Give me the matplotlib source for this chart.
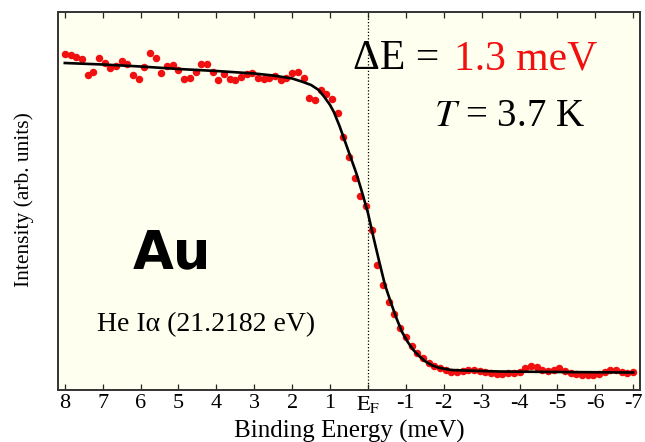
import matplotlib
matplotlib.use("Agg")
import matplotlib.pyplot as plt

# Measured photoemission intensity around the Fermi level of Au (arb. units)
energy = [
    8.00, 7.85, 7.70, 7.55, 7.40, 7.25, 7.10, 6.95, 6.80, 6.65,
    6.50, 6.35, 6.20, 6.05, 5.90, 5.75, 5.60, 5.45, 5.30, 5.15,
    5.00, 4.85, 4.70, 4.55, 4.40, 4.25, 4.10, 3.95, 3.80, 3.65,
    3.50, 3.35, 3.20, 3.05, 2.90, 2.75, 2.60, 2.45, 2.30, 2.15,
    2.00, 1.85, 1.70, 1.55, 1.40, 1.25, 1.10, 0.95, 0.80, 0.65,
    0.50, 0.35, 0.20, 0.05, -0.10, -0.25, -0.40, -0.55, -0.70, -0.85,
    -1.00, -1.15, -1.30, -1.45, -1.60, -1.75, -1.90, -2.05, -2.20, -2.35,
    -2.50, -2.65, -2.80, -2.95, -3.10, -3.25, -3.40, -3.55, -3.70, -3.85,
    -4.00, -4.15, -4.30, -4.45, -4.60, -4.75, -4.90, -5.05, -5.20, -5.35,
    -5.50, -5.65, -5.80, -5.95, -6.10, -6.25, -6.40, -6.55, -6.70, -6.85,
    -7.00,
]
intensity = [
    336, 335, 333, 331, 315, 318, 332, 327, 322, 324,
    329, 326, 315, 311, 323, 337, 332, 317, 324, 325,
    320, 311, 312, 318, 326, 326, 318, 310, 316, 311,
    310, 313, 316, 317, 312, 311, 312, 314, 310, 312,
    317, 318, 312, 292, 290, 300, 296, 291, 277, 253,
    233, 212, 194, 184, 160, 125, 105, 88, 76, 62,
    53, 44, 37, 32, 27, 24, 22, 20, 18, 18.5,
    19, 20, 20, 19, 18, 17, 16, 16, 17, 17,
    18, 22, 24, 23, 20, 19, 20, 22, 19, 17,
    16, 15, 15, 15, 16, 18, 20, 20, 18, 17,
    18,
]

# Fitted Fermi edge (Fermi-Dirac at T = 3.7 K broadened by 1.3 meV)
fit_energy = [
    8.0, 7.0, 6.0, 5.0, 4.0, 3.0, 2.5, 2.0, 1.75, 1.5,
    1.3, 1.15, 1.0, 0.9, 0.75, 0.6, 0.45, 0.3, 0.15, 0.0,
    -0.15, -0.3, -0.45, -0.6, -0.75, -0.9, -1.05, -1.2, -1.35, -1.5,
    -1.7, -1.9, -2.2, -2.7, -3.5, -5.0, -7.0,
]
fit_intensity = [
    327, 325.5, 323.5, 321, 319, 316.5, 314.5, 311.5, 308.5, 305,
    300, 293, 285, 278, 264, 248, 232, 216, 197, 177,
    152, 128, 105, 88, 72, 58, 48, 40, 34, 29,
    24.5, 22, 20, 19.3, 18.5, 18, 17.5,
]

tick_values = [8, 7, 6, 5, 4, 3, 2, 1, 0, -1, -2, -3, -4, -5, -6, -7]
tick_labels = ["8", "7", "6", "5", "4", "3", "2", "1", r"$\mathrm{E_F}$",
               "-1", "-2", "-3", "-4", "-5", "-6", "-7"]

plt.rcParams["font.family"] = ["Liberation Serif", "DejaVu Serif"]
plt.rcParams["mathtext.fontset"] = "stix"

fig = plt.figure(figsize=(6.45, 4.42), dpi=100)
ax = fig.add_axes([58 / 645, 52 / 442, 582 / 645, 378 / 442])
ax.set_facecolor("#FFFFEF")

ax.plot(energy, intensity, "o", color="#F01010", markersize=5.4,
        markeredgewidth=0, zorder=2)
ax.plot(fit_energy, fit_intensity, color="black", lw=1.9, zorder=3)
ax.axvline(0, color="black", lw=0.9, ls=(0, (1, 1.6)), zorder=1)

ax.set_xlim(8.18, -7.18)
ax.set_ylim(0, 378)
ax.set_yticks([])
ax.set_xticks(tick_values)
ax.set_xticklabels(tick_labels, fontsize=16)
ax.tick_params(axis="x", direction="in", top=True, labeltop=False,
               length=4, width=0.9, pad=3, colors="#222222",
               labelcolor="black")
for sp in ax.spines.values():
    sp.set_linewidth(1.4)
    sp.set_color("#333333")

ax.set_xlabel("Binding Energy (meV)", fontsize=18, va="top")
ax.xaxis.set_label_coords(0.501, -0.078)
ax.set_ylabel("Intensity (arb. units)", fontsize=15.5, va="center")
ax.yaxis.set_label_coords(-0.059, 0.503)

# Annotations
ax.text(0.655, 0.849, "\u0394E =", transform=ax.transAxes, fontsize=30,
        ha="right", va="baseline", color="black")
ax.text(0.680, 0.849, "1.3 meV", transform=ax.transAxes, fontsize=30,
        ha="left", va="baseline", color="#F01010")
ax.text(0.775, 0.698, r"$T$ = 3.7 K", transform=ax.transAxes, fontsize=28,
        ha="center", va="baseline", color="black")
ax.text(0.196, 0.323, "Au", transform=ax.transAxes, fontsize=38,
        family="DejaVu Sans", fontweight="bold", ha="center",
        va="baseline", color="black")
ax.text(0.254, 0.156, "He I\u03b1 (21.2182 eV)", transform=ax.transAxes,
        fontsize=20, ha="center", va="baseline", color="black")

fig.savefig("out.png", dpi=100)
